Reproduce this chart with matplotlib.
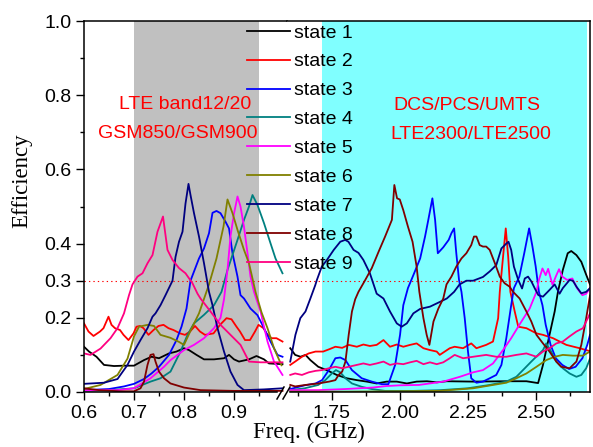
import matplotlib
matplotlib.use("Agg")
import matplotlib.pyplot as plt
from matplotlib.lines import Line2D

plt.rcParams['font.family'] = ['Liberation Sans', 'DejaVu Sans']

# ---- data: low band (0.6 - 1.0 GHz) ----
f_lo_1 = [0.60, 0.61, 0.625, 0.64, 0.66, 0.68, 0.70, 0.72, 0.735, 0.75, 0.77, 0.785, 0.80, 0.81, 0.825,
          0.84, 0.86, 0.88, 0.89, 0.90, 0.91, 0.93, 0.945, 0.96, 0.97, 0.997]
e_lo_1 = [0.122, 0.109, 0.095, 0.073, 0.070, 0.071, 0.071, 0.086, 0.095, 0.091, 0.104, 0.109, 0.118, 0.113,
          0.100, 0.088, 0.088, 0.091, 0.100, 0.088, 0.082, 0.088, 0.097, 0.088, 0.077, 0.075]

f_lo_2 = [0.60, 0.609, 0.619, 0.632, 0.639, 0.649, 0.655, 0.662, 0.672, 0.679, 0.689, 0.699, 0.705, 0.712,
          0.719, 0.729, 0.739, 0.749, 0.759, 0.769, 0.779, 0.792, 0.802, 0.812, 0.822, 0.832, 0.842, 0.859,
          0.872, 0.885, 0.895, 0.905, 0.912, 0.922, 0.932, 0.942, 0.949, 0.959, 0.965, 0.975, 0.985, 0.997]
e_lo_2 = [0.185, 0.163, 0.151, 0.163, 0.172, 0.203, 0.181, 0.172, 0.167, 0.154, 0.140, 0.158, 0.176, 0.178,
          0.172, 0.154, 0.167, 0.178, 0.181, 0.172, 0.167, 0.158, 0.154, 0.163, 0.178, 0.163, 0.154, 0.158,
          0.181, 0.199, 0.196, 0.176, 0.163, 0.140, 0.140, 0.163, 0.181, 0.172, 0.158, 0.145, 0.145, 0.136]

f_lo_3 = [0.60, 0.65, 0.68, 0.70, 0.72, 0.735, 0.75, 0.77, 0.785, 0.795, 0.805, 0.813, 0.83, 0.84, 0.85,
          0.857, 0.865, 0.873, 0.883, 0.89, 0.897, 0.907, 0.913, 0.92, 0.933, 0.947, 0.96, 0.973, 0.987, 0.997]
e_lo_3 = [0.005, 0.008, 0.015, 0.022, 0.035, 0.050, 0.068, 0.100, 0.140, 0.176, 0.225, 0.300, 0.360, 0.387,
          0.428, 0.483, 0.488, 0.482, 0.459, 0.441, 0.374, 0.311, 0.261, 0.252, 0.225, 0.207, 0.172, 0.136,
          0.100, 0.095]

f_lo_4 = [0.60, 0.65, 0.70, 0.733, 0.753, 0.773, 0.793, 0.807, 0.82, 0.84, 0.86, 0.875, 0.887, 0.907, 0.92,
          0.93, 0.937, 0.947, 0.96, 0.973, 0.983, 0.997]
e_lo_4 = [0.003, 0.005, 0.010, 0.028, 0.037, 0.055, 0.109, 0.154, 0.185, 0.208, 0.234, 0.270, 0.329, 0.410,
          0.464, 0.500, 0.531, 0.504, 0.455, 0.401, 0.360, 0.320]

f_lo_5 = [0.60, 0.667, 0.70, 0.733, 0.76, 0.773, 0.80, 0.82, 0.84, 0.86, 0.873, 0.88, 0.887, 0.893, 0.90,
          0.907, 0.913, 0.92, 0.927, 0.933, 0.94, 0.953, 0.967, 0.98, 0.997]
e_lo_5 = [0.005, 0.005, 0.010, 0.037, 0.068, 0.086, 0.113, 0.127, 0.145, 0.172, 0.200, 0.250, 0.330, 0.420,
          0.481, 0.527, 0.500, 0.445, 0.374, 0.311, 0.270, 0.217, 0.136, 0.082, 0.046]

f_lo_6 = [0.60, 0.633, 0.667, 0.687, 0.70, 0.71, 0.727, 0.74, 0.753, 0.773, 0.79, 0.80, 0.813, 0.83, 0.85,
          0.865, 0.879, 0.887, 0.897, 0.907, 0.92, 0.93, 0.943, 0.955, 0.967, 0.98, 0.995]
e_lo_6 = [0.008, 0.019, 0.046, 0.090, 0.150, 0.176, 0.181, 0.178, 0.154, 0.146, 0.135, 0.127, 0.165, 0.212,
          0.290, 0.360, 0.446, 0.519, 0.482, 0.437, 0.383, 0.347, 0.270, 0.215, 0.172, 0.118, 0.072]

f_lo_7 = [0.60, 0.64, 0.667, 0.687, 0.70, 0.713, 0.727, 0.737, 0.743, 0.753, 0.763, 0.777, 0.783, 0.79,
          0.797, 0.803, 0.809, 0.813, 0.82, 0.83, 0.84, 0.85, 0.857, 0.867, 0.88, 0.893, 0.907, 0.92, 0.96,
          0.997]
e_lo_7 = [0.022, 0.025, 0.035, 0.073, 0.109, 0.140, 0.172, 0.203, 0.212, 0.234, 0.261, 0.300, 0.364, 0.405,
          0.432, 0.508, 0.561, 0.531, 0.482, 0.419, 0.347, 0.270, 0.234, 0.172, 0.109, 0.055, 0.019, 0.005,
          0.007, 0.010]

f_lo_8 = [0.60, 0.63, 0.67, 0.70, 0.713, 0.72, 0.727, 0.733, 0.739, 0.743, 0.75, 0.76, 0.773, 0.80, 0.833,
          0.90, 0.997]
e_lo_8 = [0.010, 0.005, 0.002, 0.002, 0.010, 0.028, 0.073, 0.100, 0.102, 0.082, 0.055, 0.037, 0.023, 0.012,
          0.005, 0.003, 0.003]

f_lo_9 = [0.60, 0.613, 0.633, 0.653, 0.667, 0.68, 0.69, 0.697, 0.707, 0.717, 0.727, 0.737, 0.747, 0.758,
          0.767, 0.777, 0.79, 0.803, 0.817, 0.827, 0.833, 0.853, 0.873, 0.893, 0.913, 0.93, 0.953, 0.997]
e_lo_9 = [0.104, 0.100, 0.117, 0.145, 0.172, 0.212, 0.261, 0.290, 0.311, 0.320, 0.347, 0.369, 0.432, 0.473,
          0.383, 0.356, 0.334, 0.320, 0.293, 0.265, 0.252, 0.217, 0.181, 0.154, 0.127, 0.082, 0.080, 0.080]

# ---- data: high band (1.6 - 2.7 GHz) ----
f_hi_1 = [1.597, 1.615, 1.635, 1.653, 1.671, 1.70, 1.731, 1.768, 1.805, 1.842, 1.879, 1.915, 1.952, 1.989,
          2.026, 2.062, 2.10, 2.136, 2.173, 2.27, 2.39, 2.466, 2.509, 2.527, 2.551, 2.57, 2.582, 2.60, 2.618,
          2.631, 2.65, 2.668, 2.686, 2.70]
e_hi_1 = [0.118, 0.100, 0.095, 0.100, 0.086, 0.068, 0.059, 0.046, 0.037, 0.032, 0.028, 0.023, 0.028, 0.028,
          0.023, 0.028, 0.029, 0.026, 0.029, 0.028, 0.029, 0.029, 0.024, 0.073, 0.154, 0.217, 0.270, 0.329,
          0.374, 0.380, 0.369, 0.351, 0.316, 0.290]

f_hi_2 = [1.597, 1.615, 1.64, 1.665, 1.69, 1.718, 1.743, 1.763, 1.788, 1.812, 1.842, 1.866, 1.89, 1.915,
          1.94, 1.964, 1.989, 2.013, 2.038, 2.062, 2.087, 2.111, 2.136, 2.147, 2.184, 2.202, 2.233, 2.263,
          2.282, 2.318, 2.343, 2.362, 2.368, 2.38, 2.39, 2.399, 2.407, 2.423, 2.436, 2.466, 2.503, 2.527,
          2.564, 2.613, 2.662, 2.70]
e_hi_2 = [0.073, 0.082, 0.095, 0.104, 0.109, 0.109, 0.116, 0.122, 0.119, 0.127, 0.122, 0.128, 0.124, 0.127,
          0.140, 0.122, 0.128, 0.122, 0.127, 0.131, 0.118, 0.113, 0.109, 0.100, 0.118, 0.122, 0.118, 0.131,
          0.118, 0.127, 0.136, 0.199, 0.270, 0.364, 0.441, 0.364, 0.270, 0.217, 0.176, 0.172, 0.158, 0.154,
          0.145, 0.127, 0.118, 0.110]

f_hi_3 = [1.597, 1.65, 1.69, 1.714, 1.739, 1.763, 1.781, 1.80, 1.824, 1.86, 1.897, 1.934, 1.958, 1.983,
          2.001, 2.013, 2.03, 2.05, 2.075, 2.093, 2.105, 2.12, 2.13, 2.14, 2.16, 2.18, 2.19, 2.20, 2.208,
          2.218, 2.227, 2.239, 2.251, 2.263, 2.282, 2.306, 2.331, 2.355, 2.374, 2.392, 2.41, 2.42, 2.44,
          2.458, 2.476, 2.488, 2.50, 2.512, 2.525, 2.537, 2.555, 2.574, 2.598, 2.623, 2.647, 2.672, 2.69,
          2.70]
e_hi_3 = [0.008, 0.018, 0.023, 0.032, 0.059, 0.091, 0.093, 0.086, 0.059, 0.037, 0.028, 0.021, 0.021, 0.073,
          0.154, 0.234, 0.280, 0.315, 0.360, 0.419, 0.464, 0.522, 0.464, 0.374, 0.390, 0.410, 0.428, 0.441,
          0.374, 0.302, 0.270, 0.199, 0.109, 0.037, 0.025, 0.028, 0.037, 0.046, 0.073, 0.145, 0.234, 0.280,
          0.311, 0.374, 0.441, 0.393, 0.339, 0.270, 0.234, 0.181, 0.127, 0.091, 0.073, 0.062, 0.068, 0.091,
          0.127, 0.154]

f_hi_4 = [1.597, 1.65, 1.70, 1.726, 1.75, 1.765, 1.781, 1.80, 1.824, 1.86, 1.897, 1.946, 2.05, 2.15, 2.25,
          2.331, 2.392, 2.429, 2.46, 2.484, 2.509, 2.527, 2.539, 2.557, 2.576, 2.60, 2.625, 2.65, 2.668,
          2.686, 2.70]
e_hi_4 = [0.005, 0.010, 0.019, 0.032, 0.050, 0.059, 0.053, 0.037, 0.023, 0.014, 0.008, 0.003, 0.003, 0.005,
          0.010, 0.019, 0.028, 0.041, 0.064, 0.082, 0.100, 0.113, 0.131, 0.109, 0.082, 0.064, 0.050, 0.041,
          0.046, 0.064, 0.090]

f_hi_5 = [1.597, 1.70, 1.80, 1.90, 1.95, 2.00, 2.07, 2.16, 2.221, 2.27, 2.306, 2.343, 2.38, 2.41, 2.44,
          2.478, 2.503, 2.512, 2.525, 2.537, 2.546, 2.562, 2.574, 2.586, 2.598, 2.616, 2.635, 2.653, 2.672,
          2.686, 2.70]
e_hi_5 = [0.005, 0.005, 0.008, 0.012, 0.016, 0.018, 0.019, 0.028, 0.041, 0.053, 0.059, 0.077, 0.113, 0.145,
          0.181, 0.225, 0.270, 0.302, 0.333, 0.315, 0.332, 0.289, 0.311, 0.331, 0.311, 0.302, 0.306, 0.279,
          0.261, 0.265, 0.280]

f_hi_6 = [1.597, 1.80, 2.00, 2.147, 2.27, 2.343, 2.392, 2.429, 2.466, 2.503, 2.539, 2.57, 2.60, 2.637,
          2.674, 2.70]
e_hi_6 = [0.001, 0.001, 0.002, 0.003, 0.010, 0.019, 0.025, 0.037, 0.050, 0.068, 0.086, 0.095, 0.100, 0.098,
          0.098, 0.109]

f_hi_7 = [1.597, 1.616, 1.634, 1.653, 1.671, 1.689, 1.695, 1.713, 1.732, 1.757, 1.781, 1.799, 1.811, 1.83,
          1.848, 1.866, 1.89, 1.915, 1.94, 1.964, 1.989, 2.007, 2.026, 2.05, 2.075, 2.111, 2.148, 2.173,
          2.20, 2.22, 2.245, 2.27, 2.306, 2.331, 2.355, 2.374, 2.392, 2.40, 2.41, 2.42, 2.436, 2.45, 2.46,
          2.472, 2.485, 2.497, 2.51, 2.527, 2.551, 2.57, 2.588, 2.60, 2.625, 2.637, 2.65, 2.668, 2.686, 2.70]
e_hi_7 = [0.082, 0.154, 0.199, 0.217, 0.252, 0.288, 0.302, 0.338, 0.356, 0.383, 0.405, 0.410, 0.405, 0.383,
          0.375, 0.356, 0.320, 0.265, 0.252, 0.217, 0.185, 0.176, 0.185, 0.212, 0.224, 0.230, 0.243, 0.252,
          0.270, 0.290, 0.300, 0.300, 0.310, 0.325, 0.342, 0.387, 0.400, 0.405, 0.383, 0.338, 0.302, 0.279,
          0.306, 0.311, 0.297, 0.279, 0.261, 0.257, 0.275, 0.290, 0.265, 0.280, 0.302, 0.300, 0.284, 0.266,
          0.270, 0.280]

f_hi_8 = [1.597, 1.615, 1.653, 1.70, 1.74, 1.763, 1.775, 1.788, 1.80, 1.812, 1.824, 1.836, 1.848, 1.873,
          1.897, 1.922, 1.946, 1.971, 1.98, 1.99, 2.0, 2.013, 2.03, 2.047, 2.062, 2.072, 2.087, 2.099, 2.109,
          2.124, 2.142, 2.16, 2.172, 2.19, 2.208, 2.227, 2.245, 2.263, 2.273, 2.282, 2.294, 2.306, 2.318,
          2.331, 2.35, 2.368, 2.386, 2.404, 2.417, 2.441, 2.466, 2.484, 2.503, 2.527, 2.551, 2.576, 2.594,
          2.625, 2.65, 2.668, 2.686, 2.70]
e_hi_8 = [0.019, 0.015, 0.019, 0.023, 0.028, 0.032, 0.046, 0.055, 0.082, 0.154, 0.217, 0.250, 0.270, 0.302,
          0.334, 0.378, 0.419, 0.464, 0.558, 0.522, 0.519, 0.490, 0.446, 0.405, 0.338, 0.270, 0.199, 0.154,
          0.127, 0.190, 0.225, 0.252, 0.290, 0.311, 0.338, 0.360, 0.374, 0.396, 0.419, 0.419, 0.396, 0.392,
          0.392, 0.383, 0.347, 0.311, 0.293, 0.284, 0.270, 0.252, 0.217, 0.190, 0.154, 0.131, 0.109, 0.082,
          0.068, 0.064, 0.082, 0.127, 0.199, 0.260]

f_hi_9 = [1.597, 1.615, 1.64, 1.665, 1.69, 1.714, 1.739, 1.763, 1.788, 1.812, 1.842, 1.866, 1.89, 1.915,
          1.94, 1.964, 1.989, 2.013, 2.038, 2.062, 2.087, 2.111, 2.136, 2.16, 2.184, 2.202, 2.233, 2.27,
          2.318, 2.355, 2.392, 2.429, 2.466, 2.503, 2.527, 2.551, 2.576, 2.60, 2.625, 2.65, 2.674, 2.692, 2.70]
e_hi_9 = [0.046, 0.050, 0.046, 0.053, 0.057, 0.059, 0.064, 0.068, 0.064, 0.068, 0.073, 0.077, 0.073, 0.077,
          0.082, 0.073, 0.077, 0.075, 0.080, 0.084, 0.075, 0.080, 0.075, 0.080, 0.091, 0.100, 0.091, 0.095,
          0.100, 0.095, 0.095, 0.100, 0.104, 0.095, 0.109, 0.118, 0.131, 0.136, 0.150, 0.163, 0.172, 0.199,
          0.212]

labels = ['state 1', 'state 2', 'state 3', 'state 4', 'state 5',
          'state 6', 'state 7', 'state 8', 'state 9']
colors = ['#000000', '#FF0000', '#0000FF', '#008080', '#FF00FF',
          '#808000', '#000080', '#800000', '#FF0080']

low_band = [(f_lo_1, e_lo_1), (f_lo_2, e_lo_2), (f_lo_3, e_lo_3), (f_lo_4, e_lo_4), (f_lo_5, e_lo_5),
            (f_lo_6, e_lo_6), (f_lo_7, e_lo_7), (f_lo_8, e_lo_8), (f_lo_9, e_lo_9)]
high_band = [(f_hi_1, e_hi_1), (f_hi_2, e_hi_2), (f_hi_3, e_hi_3), (f_hi_4, e_hi_4), (f_hi_5, e_hi_5),
             (f_hi_6, e_hi_6), (f_hi_7, e_hi_7), (f_hi_8, e_hi_8), (f_hi_9, e_hi_9)]

W, H = 593, 447
fig = plt.figure(figsize=(W / 100, H / 100), dpi=100)
axL = fig.add_axes([84 / W, 55 / H, 203 / W, 371 / H])
axR = fig.add_axes([287 / W, 55 / H, 303 / W, 371 / H])

# shaded bands
axL.axvspan(0.70, 0.95, color='#C0C0C0', lw=0, zorder=0)
axR.axvspan(1.715, 2.69, color='#80FFFF', lw=0, zorder=0)

handles = []
for (f, e), c, lab in zip(low_band, colors, labels):
    h, = axL.plot(f, e, color=c, lw=1.3, label=lab)
    handles.append(h)
for (f, e), c in zip(high_band, colors):
    axR.plot(f, e, color=c, lw=1.3)

for ax in (axL, axR):
    ax.axhline(0.3, color='#FF0000', lw=0.8, ls=(0, (1.2, 2.8)), zorder=1)
    ax.set_ylim(0, 1.0)
    ax.tick_params(axis='both', which='major', direction='out', length=6, width=1,
                   labelsize=14, pad=3)
    ax.tick_params(axis='both', which='minor', direction='out', length=3, width=1)
    for sp in ax.spines.values():
        sp.set_linewidth(1.1)

axL.set_xlim(0.6, 1.006)
axR.set_xlim(1.585, 2.70)

axL.set_xticks([0.6, 0.7, 0.8, 0.9])
axL.set_xticklabels(['0.6', '0.7', '0.8', '0.9'])
axL.set_xticks([0.65, 0.75, 0.85, 0.95], minor=True)
axL.set_yticks([0.0, 0.2, 0.3, 0.4, 0.6, 0.8, 1.0])
axL.set_yticklabels(['0.0', '0.2', '0.3', '0.4', '0.6', '0.8', '1.0'])
axL.set_yticks([0.1, 0.5, 0.7, 0.9], minor=True)

axR.set_xticks([1.75, 2.00, 2.25, 2.50])
axR.set_xticklabels(['1.75', '2.00', '2.25', '2.50'])
axR.set_xticks([1.625, 1.875, 2.125, 2.375, 2.625], minor=True)
axR.set_yticks([])
axR.tick_params(axis='y', which='both', left=False, labelleft=False)

axL.spines['right'].set_visible(False)
axR.spines['left'].set_visible(False)
axL.spines['bottom'].set_bounds(0.6, 0.986)
axR.spines['bottom'].set_bounds(1.597, 2.70)

# band annotations
axL.text(0.802, 0.774, 'LTE band12/20', color='red', fontsize=14, ha='center', va='center')
axL.text(0.788, 0.698, 'GSM850/GSM900', color='red', fontsize=14, ha='center', va='center')
axR.text(2.246, 0.771, 'DCS/PCS/UMTS', color='red', fontsize=14, ha='center', va='center')
axR.text(2.261, 0.693, 'LTE2300/LTE2500', color='red', fontsize=14, ha='center', va='center')

# axis break marks
for x0 in (277, 283):
    fig.add_artist(Line2D([x0 / W, (x0 + 7) / W], [(H - 399) / H, (H - 387) / H],
                          color='black', lw=1.1))

fig.text(22 / W, (H - 181) / H, 'Efficiency', rotation=90, ha='center', va='center',
         fontsize=16.5, family='Liberation Serif')
fig.text(309 / W, (H - 432) / H, 'Freq. (GHz)', ha='center', va='center',
         fontsize=16.5, family='Liberation Serif')

fig.legend(handles, labels, loc='upper left', bbox_to_anchor=(247 / W, (H - 24) / H),
           bbox_transform=fig.transFigure, frameon=False, borderpad=0, borderaxespad=0,
           handlelength=2.2, handletextpad=0.2, labelspacing=0.58, fontsize=14)

fig.savefig('out.png', dpi=100)
